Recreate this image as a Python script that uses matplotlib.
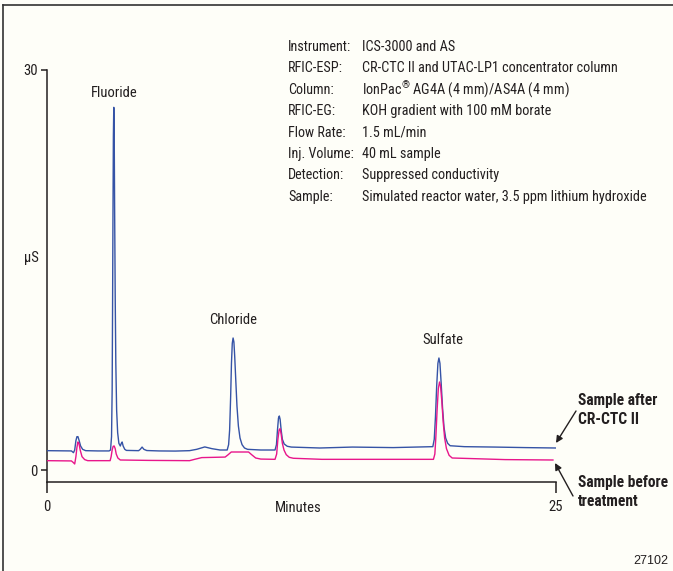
import matplotlib.pyplot as plt
from matplotlib import font_manager
from matplotlib.patches import FancyArrowPatch

# ── Data (minutes, µS) ──────────────────────────────────────────────────────
after_t = [0.0, 0.6, 1.2, 1.3, 1.36, 1.42, 1.47, 1.52, 1.58, 1.65, 1.75, 1.9,
           2.5, 3.05, 3.12, 3.17, 3.2, 3.22, 3.24, 3.26, 3.28, 3.30, 3.32,
           3.35, 3.38, 3.42, 3.47, 3.53, 3.6, 3.65, 3.69, 3.74, 3.82, 3.9,
           4.5, 4.58, 4.67, 4.76, 4.9, 5.5, 6.3, 7.0, 7.35, 7.75, 8.1, 8.5,
           8.85, 8.92, 8.97, 9.02, 9.06, 9.1, 9.14, 9.18, 9.22, 9.27, 9.33,
           9.4, 9.48, 9.58, 9.7, 9.85, 10.5, 11.2, 11.27, 11.32, 11.37,
           11.41, 11.45, 11.5, 11.56, 11.65, 11.8, 12.0, 13.4, 15.0, 17.0,
           18.95, 19.02, 19.08, 19.14, 19.2, 19.25, 19.3, 19.36, 19.43,
           19.5, 19.58, 19.68, 19.8, 20.5, 22.0, 23.5, 25.0]
after_y = [1.45, 1.44, 1.43, 1.3, 1.5, 2.2, 2.5, 2.5, 2.2, 1.8, 1.55, 1.45,
           1.43, 1.43, 1.5, 2.5, 6.0, 12.0, 19.0, 25.0, 27.2, 25.5, 20.0,
           13.0, 8.0, 4.5, 2.8, 2.0, 1.8, 2.0, 2.1, 1.8, 1.55, 1.47,
           1.45, 1.55, 1.72, 1.55, 1.46, 1.43, 1.42, 1.45, 1.55, 1.73, 1.6,
           1.5, 1.5, 1.9, 3.0, 5.5, 8.0, 9.5, 9.9, 9.6, 8.5, 6.8, 4.8,
           3.3, 2.4, 1.9, 1.65, 1.55, 1.5, 1.5, 1.9, 3.0, 3.9,
           4.05, 3.8, 3.0, 2.3, 1.95, 1.78, 1.72, 1.65, 1.72, 1.68,
           1.75, 2.3, 4.0, 6.3, 8.0, 8.4, 8.0, 6.5, 4.6,
           3.2, 2.4, 2.0, 1.82, 1.75, 1.72, 1.68, 1.65]

before_t = [0.0, 0.6, 1.2, 1.3, 1.36, 1.42, 1.47, 1.52, 1.57, 1.63, 1.72,
            1.85, 2.0, 3.1, 3.15, 3.2, 3.25, 3.3, 3.35, 3.4, 3.48, 3.6,
            5.0, 7.0, 7.25, 7.6, 8.2, 8.75, 8.9, 9.05, 9.9, 10.05, 10.25,
            10.5, 11.2, 11.28, 11.34, 11.4, 11.45, 11.5, 11.56, 11.64,
            11.75, 11.9, 12.1, 13.5, 16.0, 18.98, 19.05, 19.1, 19.16,
            19.22, 19.28, 19.33, 19.39, 19.46, 19.53, 19.62, 19.75, 19.9,
            22.5, 24.85]
before_y = [0.7, 0.69, 0.68, 0.55, 0.45, 1.0, 1.7, 2.1, 2.0, 1.5, 1.0,
            0.78, 0.7, 0.7, 1.0, 1.5, 1.78, 1.8, 1.6, 1.2, 0.9, 0.75,
            0.72, 0.7, 0.8, 0.93, 0.95, 0.97, 1.15, 1.35, 1.35, 1.15, 0.9,
            0.82, 0.8, 1.2, 2.3, 3.0, 3.1, 2.7, 2.0, 1.5,
            1.15, 0.95, 0.88, 0.8, 0.8, 0.8, 1.2, 2.5, 4.5,
            6.1, 6.6, 6.3, 5.2, 3.6, 2.4, 1.6, 1.1, 0.9,
            0.78, 0.75]

peak_names = ['Fluoride', 'Chloride', 'Sulfate']
peak_pos   = [(3.28, 28.3), (9.14, 11.25), (19.45, 9.75)]

conditions = [
    ('Instrument:',  'ICS-3000 and AS'),
    ('RFIC-ESP:',    'CR-CTC II and UTAC-LP1 concentrator column'),
    ('Column:',      'IonPac$^{\u00ae}$ AG4A (4 mm)/AS4A (4 mm)'),
    ('RFIC-EG:',     'KOH gradient with 100 mM borate'),
    ('Flow Rate:',   '1.5 mL/min'),
    ('Inj. Volume:', '40 mL sample'),
    ('Detection:',   'Suppressed conductivity'),
    ('Sample:',      'Simulated reactor water, 3.5 ppm lithium hydroxide'),
]

# ── Style ────────────────────────────────────────────────────────────────────
BG = '#fefef8'
INK = '#231f20'
BLUE = '#3553a6'
MAGENTA = '#e8168b'
W, H = 673, 571

installed = {f.name for f in font_manager.fontManager.ttflist}
NARROW = next((n for n in ['Roboto Condensed', 'Archivo Narrow', 'PT Sans Narrow',
                           'Fira Sans Condensed', 'IBM Plex Sans Condensed',
                           'Liberation Sans'] if n in installed), 'DejaVu Sans')

plt.rcParams['font.family'] = [NARROW, 'DejaVu Sans']
plt.rcParams['mathtext.fontset'] = 'custom'
plt.rcParams['mathtext.rm'] = NARROW

fig = plt.figure(figsize=(W / 100, H / 100), dpi=100, facecolor=BG)


def fx(px):
    return px / W


def fy(py):
    return 1 - py / H


ax = fig.add_axes([fx(47), fy(482), (556 - 47) / W, (482 - 70) / H])
ax.set_facecolor('none')

ax.plot(after_t, after_y, color=BLUE, lw=1.0, zorder=3)
ax.plot(before_t, before_y, color=MAGENTA, lw=1.0, zorder=3)

ax.set_xlim(0, 25)
ax.set_ylim(-0.9, 30)
for s in ('top', 'right'):
    ax.spines[s].set_visible(False)
for s in ('left', 'bottom'):
    ax.spines[s].set_linewidth(1.1)
    ax.spines[s].set_color(INK)

ax.set_xticks([0, 25])
ax.set_yticks([0, 30])
ax.tick_params(axis='x', direction='out', length=8, width=1.1, color=INK,
               labelsize=10.5, labelcolor=INK, pad=5)
ax.tick_params(axis='y', direction='out', length=4.5, width=1.1, color=INK,
               labelsize=10.5, labelcolor=INK, pad=2)

for name, (px_, py_) in zip(peak_names, peak_pos):
    ax.text(px_, py_, name, ha='center', va='center', fontsize=10.5,
            color=INK, clip_on=False)

fig.text(fx(298), fy(508), 'Minutes', ha='center', va='center',
         fontsize=10.5, color=INK)
fig.text(fx(31), fy(258), 'µS', ha='center', va='center',
         fontsize=10.5, color=INK)

# conditions block
for i, (lab, val) in enumerate(conditions):
    yy = fy(47 + i * 21.4)
    fig.text(fx(288), yy, lab, ha='left', va='center', fontsize=10.2, color=INK)
    fig.text(fx(362), yy, val, ha='left', va='center', fontsize=10.3, color=INK)

# trace labels with arrows
for txt, ypx in [('Sample after', 400), ('CR-CTC II', 419),
                 ('Sample before', 483), ('treatment', 502)]:
    fig.text(fx(578), fy(ypx), txt, ha='left', va='center',
             fontsize=11.2, fontweight='bold', color=INK)

arrow = dict(arrowstyle='-|>', color=INK, lw=1.0, mutation_scale=10,
             shrinkA=0, shrinkB=0, transform=fig.transFigure)
fig.add_artist(FancyArrowPatch((fx(576), fy(411)), (fx(556), fy(443)), **arrow))
fig.add_artist(FancyArrowPatch((fx(573), fy(496)), (fx(555), fy(463)), **arrow))

fig.text(fx(668), fy(561), '27102', ha='right', va='center', fontsize=9,
         family='Liberation Sans', color=INK)

# partial frame (top and left edges)
fig.add_artist(plt.Line2D([fx(3), fx(3)], [0, fy(5)], color='#333333',
                          lw=1.2, transform=fig.transFigure))
fig.add_artist(plt.Line2D([fx(3), 1], [fy(5), fy(5)], color='#333333',
                          lw=1.2, transform=fig.transFigure))

fig.savefig('out.png', dpi=100, facecolor=BG)
